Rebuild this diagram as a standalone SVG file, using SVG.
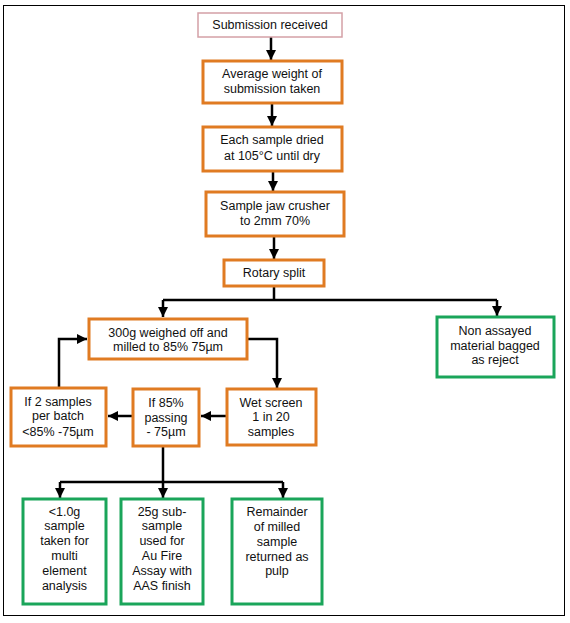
<svg xmlns="http://www.w3.org/2000/svg" width="570" height="623" viewBox="0 0 570 623">
<defs>
<style>
.t{font-family:"Liberation Sans",Arial,sans-serif;font-size:12.5px;fill:#111;text-anchor:middle}
.o{fill:#fff;stroke:#e07b22;stroke-width:3}
.g{fill:#fff;stroke:#1aa55a;stroke-width:3}
.p{fill:#fff;stroke:#d4a0a6;stroke-width:1.5}
.c{fill:none;stroke:#000;stroke-width:2.5}
</style>
<marker id="a" viewBox="0 0 10 10" refX="10" refY="5" markerWidth="4" markerHeight="4" orient="auto" markerUnits="strokeWidth">
<path d="M0,0 L10,5 L0,10 z" fill="#000"/>
</marker>
</defs>
<rect x="0" y="0" width="570" height="623" fill="#fff"/>
<rect x="3.5" y="5.5" width="561" height="610" fill="none" stroke="#000" stroke-width="1"/>
<g id="connectors">
<path class="c" d="M271,37 V60" marker-end="url(#a)"/>
<path class="c" d="M272,103 V126" marker-end="url(#a)"/>
<path class="c" d="M273,171 V191" marker-end="url(#a)"/>
<path class="c" d="M274,236 V259" marker-end="url(#a)"/>
<path class="c" d="M274,286 V300"/>
<path class="c" d="M163,300 H497"/>
<path class="c" d="M163,300 V317" marker-end="url(#a)"/>
<path class="c" d="M497,300 V316" marker-end="url(#a)"/>
<path class="c" d="M247,339 H277 V388" marker-end="url(#a)"/>
<path class="c" d="M227,416 H201" marker-end="url(#a)"/>
<path class="c" d="M133,416 H108" marker-end="url(#a)"/>
<path class="c" d="M59,388 V339 H87" marker-end="url(#a)"/>
<path class="c" d="M163,446 V482"/>
<path class="c" d="M60,482 H283"/>
<path class="c" d="M60,482 V498" marker-end="url(#a)"/>
<path class="c" d="M163,482 V498" marker-end="url(#a)"/>
<path class="c" d="M283,482 V498" marker-end="url(#a)"/>
</g>
<g id="n1"><rect class="p" x="198" y="13" width="144" height="24"/><text class="t" x="270" y="29">Submission received</text></g>
<g id="n2"><rect class="o" x="203" y="61" width="139" height="42"/><text class="t" x="272" y="78">Average weight of</text><text class="t" x="272" y="93">submission taken</text></g>
<g id="n3"><rect class="o" x="203" y="127" width="139" height="44"/><text class="t" x="272" y="144">Each sample dried</text><text class="t" x="272" y="160">at 105°C until dry</text></g>
<g id="n4"><rect class="o" x="206" y="192" width="138" height="44"/><text class="t" x="275" y="210">Sample jaw crusher</text><text class="t" x="275" y="225">to 2mm 70%</text></g>
<g id="n5"><rect class="o" x="224" y="260" width="100" height="26"/><text class="t" x="274" y="277">Rotary split</text></g>
<g id="n6"><rect class="o" x="89" y="319" width="158" height="40"/><text class="t" x="168" y="337">300g weighed off and</text><text class="t" x="168" y="351">milled to 85% 75µm</text></g>
<g id="n7"><rect class="g" x="437" y="317" width="117" height="60"/><text class="t" x="495" y="335">Non assayed</text><text class="t" x="495" y="350">material bagged</text><text class="t" x="495" y="364">as reject</text></g>
<g id="n8"><rect class="o" x="227" y="389" width="89" height="56"/><text class="t" x="271" y="407">Wet screen</text><text class="t" x="271" y="421">1 in 20</text><text class="t" x="271" y="436">samples</text></g>
<g id="n9"><rect class="o" x="133" y="389" width="66" height="57"/><text class="t" x="166" y="407">If 85%</text><text class="t" x="166" y="422">passing</text><text class="t" x="166" y="436">- 75µm</text></g>
<g id="n10"><rect class="o" x="11" y="388" width="95" height="58"/><text class="t" x="58" y="406">If 2 samples</text><text class="t" x="58" y="420">per batch</text><text class="t" x="58" y="436">&lt;85% -75µm</text></g>
<g id="n11"><rect class="g" x="23" y="499" width="83" height="105"/><text class="t" x="64.5" y="516">&lt;1.0g</text><text class="t" x="64.5" y="530">sample</text><text class="t" x="64.5" y="545">taken for</text><text class="t" x="64.5" y="560">multi</text><text class="t" x="64.5" y="575">element</text><text class="t" x="64.5" y="590">analysis</text></g>
<g id="n12"><rect class="g" x="121" y="499" width="82" height="105"/><text class="t" x="162" y="516">25g sub-</text><text class="t" x="162" y="530">sample</text><text class="t" x="162" y="545">used for</text><text class="t" x="162" y="560">Au Fire</text><text class="t" x="162" y="575">Assay with</text><text class="t" x="162" y="590">AAS finish</text></g>
<g id="n13"><rect class="g" x="232" y="499" width="90" height="105"/><text class="t" x="277" y="516">Remainder</text><text class="t" x="277" y="531">of milled</text><text class="t" x="277" y="546">sample</text><text class="t" x="277" y="561">returned as</text><text class="t" x="277" y="575">pulp</text></g>
</svg>
